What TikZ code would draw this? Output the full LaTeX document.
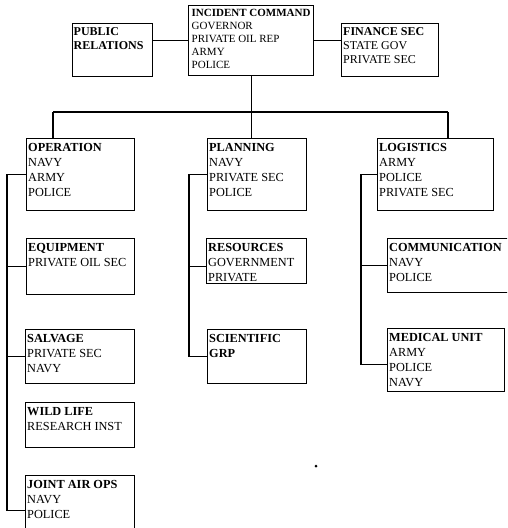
\documentclass[tikz,border=0pt]{standalone}
\usepackage{fontspec}
\setmainfont{Liberation Serif}
\tikzset{
  box/.style={draw, line width=1.4pt, inner sep=0pt, anchor=north west},
  link/.style={draw, line width=1.1pt},
  txtbase/.style={inner sep=0pt, align=left, anchor=north west},
  txt/.style={txtbase, xshift=2pt, yshift=-5.6pt, font=\fontsize{12.3}{14.7}\selectfont},
  txtsmall/.style={txtbase, xshift=3.5pt, yshift=-4.4pt, font=\fontsize{11}{12.9}\selectfont},
  txtmid/.style={txtbase, xshift=2pt, yshift=-4.8pt, font=\fontsize{12}{14}\selectfont},
}
\begin{document}
\begin{tikzpicture}[x=1pt,y=-1pt]
\fill[white] (0,0) rectangle (507,528);
\clip (0,0) rectangle (507,528);
% boxes
\node[box, minimum width=80pt, minimum height=53pt] (pr) at (72,23) {};
\node[box, minimum width=125pt, minimum height=70pt] (ic) at (188,5) {};
\node[box, minimum width=97pt, minimum height=53pt] (fin) at (341,23) {};
\node[box, minimum width=108pt, minimum height=72pt] (op) at (26,138) {};
\node[box, minimum width=99pt, minimum height=72pt] (pl) at (207,138) {};
\node[box, minimum width=116pt, minimum height=72pt] (lg) at (377,138) {};
\node[box, minimum width=108pt, minimum height=56pt] (eq) at (26,238) {};
\node[box, minimum width=100pt, minimum height=45pt] (rs) at (206,238) {};
\node[box, minimum width=130pt, minimum height=54pt] (cm) at (387,238) {};
\node[box, minimum width=109pt, minimum height=54pt] (sv) at (25,329) {};
\node[box, minimum width=99pt, minimum height=54pt] (sc) at (207,329) {};
\node[box, minimum width=117pt, minimum height=63pt] (md) at (387,328) {};
\node[box, minimum width=109pt, minimum height=45pt] (wl) at (25,402) {};
\node[box, minimum width=109pt, minimum height=70pt] (ja) at (25,475) {};
% texts
\node[txtbase, xshift=1.5pt, yshift=-4.8pt, font=\fontsize{12}{13.4}\selectfont] (prt) at (pr.north west) {\textbf{PUBLIC}\\\textbf{RELATIONS}};
\node[txtsmall] (ict) at (ic.north west) {\textbf{INCIDENT COMMAND}\\GOVERNOR\\PRIVATE OIL REP\\ARMY\\POLICE};
\node[txtmid] (fint) at (fin.north west) {\textbf{FINANCE SEC}\\STATE GOV\\PRIVATE SEC};
\node[txt] (opt) at (op.north west) {\textbf{OPERATION}\\NAVY\\ARMY\\POLICE};
\node[txt] (plt) at (pl.north west) {\textbf{PLANNING}\\NAVY\\PRIVATE SEC\\POLICE};
\node[txt] (lgt) at (lg.north west) {\textbf{LOGISTICS}\\ARMY\\POLICE\\PRIVATE SEC};
\node[txt] (eqt) at (eq.north west) {\textbf{EQUIPMENT}\\PRIVATE OIL SEC};
\node[txt] (rst) at (rs.north west) {\textbf{RESOURCES}\\GOVERNMENT\\PRIVATE};
\node[txt] (cmt) at (cm.north west) {\textbf{COMMUNICATION}\\NAVY\\POLICE};
\node[txt] (svt) at (sv.north west) {\textbf{SALVAGE}\\PRIVATE SEC\\NAVY};
\node[txt] (sct) at (sc.north west) {\textbf{SCIENTIFIC}\\\textbf{GRP}};
\node[txt] (mdt) at (md.north west) {\textbf{MEDICAL UNIT}\\ARMY\\POLICE\\NAVY};
\node[txt] (wlt) at (wl.north west) {\textbf{WILD LIFE}\\RESEARCH INST};
\node[txt] (jat) at (ja.north west) {\textbf{JOINT AIR OPS}\\NAVY\\POLICE};
% top connectors
\draw[link] (ic.west) -- (ic.west -| pr.east);
\draw[link] (ic.east) -- (ic.east -| fin.west);
\coordinate (busL) at (53,112);
\coordinate (busR) at (448,112);
\coordinate (busM) at (251.5,112);
\draw[link] (busL) -- (busR);
\draw[link] (busL) -- (busL |- op.north);
\draw[link] (busR) -- (busR |- lg.north);
\draw[link] (busM |- ic.south) -- (busM |- pl.north);
% operation spine
\coordinate (opsp) at (7,0);
\draw[link] (op.west) -- (op.west -| opsp) -- (ja.west -| opsp) -- (ja.west);
\draw[link] (eq.west -| opsp) -- (eq.west);
\draw[link] (sv.west -| opsp) -- (sv.west);
% planning spine
\coordinate (plsp) at (189,0);
\draw[link] (pl.west) -- (pl.west -| plsp) -- (sc.west -| plsp) -- (sc.west);
\draw[link] ([yshift=-5.2pt]rs.west -| plsp) -- ([yshift=-5.2pt]rs.west);
% logistics spine
\coordinate (lgsp) at (361,0);
\draw[link] (lg.west) -- (lg.west -| lgsp) -- ([yshift=-4.5pt]md.west -| lgsp) -- ([yshift=-4.5pt]md.west);
\draw[link] (cm.west -| lgsp) -- (cm.west);
% stray speck
\fill (316,466) circle (1.5pt);
\end{tikzpicture}
\end{document}
